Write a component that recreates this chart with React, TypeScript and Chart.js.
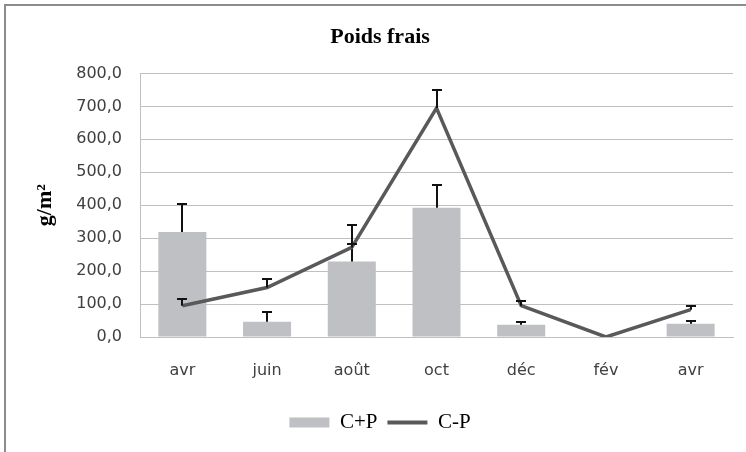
import React, { useEffect, useRef } from 'react';
import { Chart, registerables } from 'chart.js';

Chart.register(...registerables);

const categories = ['avr', 'juin', 'août', 'oct', 'déc', 'fév', 'avr'];
const seriesNames = ['C+P', 'C-P'];
const cpValues = [319, 46, 229, 392, 37, 0, 40];
const cpErrors = [84, 31, 112, 70, 9, 0, 9];
const cmValues = [95, 150, 272, 695, 95, 0, 83];
const cmErrors = [19, 25, 10, 56, 13, 0, 12];
const yMin = 0;
const yMax = 800;
const yStep = 100;
const chartTitle = 'Poids frais';
const yTitle = 'g/m²';

const BAR_COLOR = '#bfc0c4';
const LINE_COLOR = '#595959';
const GRID_COLOR = '#c0c0c0';
const TICK_COLOR = '#404040';

const errorBarPlugin = {
  id: 'errorBars',
  afterDatasetDraw(chart: any, args: any) {
    const ds: any = chart.data.datasets[args.index];
    const errs: number[] | undefined = ds.errors;
    if (!errs) return;
    const yScale = chart.scales.y;
    const ctx = chart.ctx;
    ctx.save();
    ctx.strokeStyle = '#111111';
    ctx.lineWidth = 2;
    args.meta.data.forEach((el: any, j: number) => {
      const e = errs[j];
      if (!e) return;
      const v = ds.data[j];
      const x = Math.round(el.x);
      const y0 = yScale.getPixelForValue(v);
      const y1 = Math.round(yScale.getPixelForValue(v + e));
      ctx.beginPath();
      ctx.moveTo(x, y0);
      ctx.lineTo(x, y1);
      ctx.moveTo(x - 5, y1);
      ctx.lineTo(x + 5, y1);
      ctx.stroke();
    });
    ctx.restore();
  },
};

export default function App() {
  const canvasRef = useRef<HTMLCanvasElement | null>(null);

  useEffect(() => {
    const canvas = canvasRef.current;
    if (!canvas) return;
    const chart = new Chart(canvas, {
      type: 'bar',
      data: {
        labels: categories,
        datasets: [
          {
            type: 'bar',
            label: seriesNames[0],
            data: cpValues,
            errors: cpErrors,
            backgroundColor: BAR_COLOR,
            borderWidth: 0,
            barPercentage: 0.567,
            categoryPercentage: 1,
            order: 1,
          } as any,
          {
            type: 'line',
            label: seriesNames[1],
            data: cmValues,
            errors: cmErrors,
            borderColor: LINE_COLOR,
            backgroundColor: LINE_COLOR,
            borderWidth: 3.5,
            pointRadius: 0,
            tension: 0,
            borderJoinStyle: 'miter',
            order: 0,
          } as any,
        ],
      },
      options: {
        responsive: false,
        animation: false,
        devicePixelRatio: 1,
        layout: { padding: { top: 0, left: 27, right: 13, bottom: 9 } },
        plugins: {
          title: {
            display: true,
            text: chartTitle,
            color: '#000000',
            font: { family: 'Liberation Serif', size: 22, weight: 'bold' },
            padding: { top: 24, bottom: 23 },
          },
          legend: {
            display: true,
            position: 'bottom',
            labels: {
              usePointStyle: true,
              pointStyleWidth: 40,
              boxHeight: 10,
              padding: 10,
              color: '#111111',
              font: { family: 'Liberation Serif', size: 21 },
              generateLabels: () => [
                {
                  text: seriesNames[0],
                  fillStyle: BAR_COLOR,
                  strokeStyle: BAR_COLOR,
                  lineWidth: 0,
                  pointStyle: 'rect',
                  datasetIndex: 0,
                  hidden: false,
                },
                {
                  text: seriesNames[1],
                  fillStyle: LINE_COLOR,
                  strokeStyle: LINE_COLOR,
                  lineWidth: 4,
                  pointStyle: 'line',
                  datasetIndex: 1,
                  hidden: false,
                },
              ],
            },
          },
          tooltip: { enabled: false },
        },
        scales: {
          x: {
            offset: true,
            grid: { display: false, drawTicks: false },
            border: { display: true, color: GRID_COLOR, width: 1 },
            ticks: {
              color: TICK_COLOR,
              padding: 24,
              font: { family: 'DejaVu Sans', size: 16 },
              maxRotation: 0,
            },
            afterFit: (scale: any) => {
              scale.height = 65;
            },
          },
          y: {
            min: yMin,
            max: yMax,
            ticks: {
              stepSize: yStep,
              color: TICK_COLOR,
              padding: 18,
              font: { family: 'DejaVu Sans', size: 16 },
              callback: (v: any) => Number(v).toFixed(1).replace('.', ','),
            },
            grid: { color: GRID_COLOR, lineWidth: 1, drawTicks: false },
            border: { display: true, color: GRID_COLOR, width: 1 },
            title: {
              display: true,
              text: yTitle,
              color: '#000000',
              font: { family: 'Liberation Serif', size: 22, weight: 'bold' },
              padding: { top: 5, bottom: 0 },
            },
            afterFit: (scale: any) => {
              scale.width = 113;
            },
          },
        },
      } as any,
      plugins: [errorBarPlugin],
    });
    return () => chart.destroy();
  }, []);

  return (
    <div
      style={{
        position: 'fixed',
        top: 0,
        left: 0,
        width: 746,
        height: 452,
        overflow: 'hidden',
        background: '#ffffff',
      }}
    >
      <canvas ref={canvasRef} width={746} height={452} style={{ display: 'block' }} />
      <div
        style={{
          position: 'absolute',
          left: 4,
          top: 4,
          width: 780,
          height: 480,
          border: '2px solid #8c8c8c',
          pointerEvents: 'none',
        }}
      />
    </div>
  );
}
